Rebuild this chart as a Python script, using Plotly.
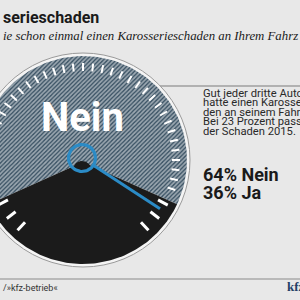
import numpy as np
import plotly.graph_objects as go

# ---- data ----
categories = ["Nein", "Ja"]
shares = [64, 36]
title_text = "serieschaden"
subtitle_text = "ie schon einmal einen Karosserieschaden an Ihrem Fahrz"
body_lines = ["Gut jeder dritte Auto", "hatte einen Karosse", "den an seinem Fahrz",
              "Bei 23 Prozent pass", "der Schaden 2015."]
source_text = "/»kfz-betrieb«"
logo_text = "kfz"

# ---- layout constants (pixels) ----
CX, CY = 83.0, 160.0
R_OUT, R = 107.0, 104.0
BG = "#e8e8e8"
BLUE = "#2b8bc6"
SLATE = "#3a5264"


def pt(r, deg):
    a = np.deg2rad(deg)
    return CX + r * np.cos(a), CY - r * np.sin(a)


def sector(a0, a1, n=120):
    angs = np.linspace(a0, a1, n)
    xs = [CX] + list(CX + R * np.cos(np.deg2rad(angs))) + [CX]
    ys = [CY + 2] + list(CY - R * np.sin(np.deg2rad(angs))) + [CY + 2]
    return xs, ys


ja_span = 360.0 * shares[1] / sum(shares)
ja_start, ja_end = -90 - ja_span / 2, -90 + ja_span / 2
nein_start, nein_end = ja_end, ja_start + 360

fig = go.Figure()

# Nein (hatched)
xs, ys = sector(nein_start, nein_end)
fig.add_trace(go.Scatter(x=xs, y=ys, mode="lines", fill="toself",
                         fillcolor=SLATE, line=dict(width=0),
                         fillpattern=dict(shape="/", fgcolor="#ffffff", bgcolor=SLATE,
                                          size=3, solidity=0.55),
                         hoverinfo="skip", name=categories[0]))
# Ja (black)
xs, ys = sector(ja_start, ja_end)
fig.add_trace(go.Scatter(x=xs, y=ys, mode="lines", fill="toself",
                         fillcolor="#1b1b1b", line=dict(width=0),
                         hoverinfo="skip", name=categories[1]))
# rounded apex of the black sector
HX, HY = 82.0, 158.0
ang = np.linspace(0, 2 * np.pi, 60)
fig.add_trace(go.Scatter(x=HX + 8 * np.cos(ang), y=HY + 9 + 6 * np.sin(ang), mode="lines",
                         fill="toself", fillcolor="#1b1b1b", line=dict(width=0),
                         hoverinfo="skip"))

# ticks on hatched part
tx, ty = [], []
for k in range(-18, 19):
    d = 90 + 6 * k
    x0, y0 = pt(89, d)
    x1, y1 = pt(97, d)
    tx += [x0, x1, None]
    ty += [y0, y1, None]
fig.add_trace(go.Scatter(x=tx, y=ty, mode="lines", line=dict(color="white", width=2),
                         hoverinfo="skip"))
# ticks on black part
tx, ty = [], []
for d in [-28, -37.5, -47, -152, -142.5, -133]:
    x0, y0 = pt(85, d)
    x1, y1 = pt(96, d)
    tx += [x0, x1, None]
    ty += [y0, y1, None]
fig.add_trace(go.Scatter(x=tx, y=ty, mode="lines", line=dict(color="white", width=3),
                         hoverinfo="skip"))

# hub ring and needle
fig.add_trace(go.Scatter(x=HX + 13.5 * np.cos(ang), y=HY + 13.5 * np.sin(ang), mode="lines",
                         line=dict(color=BLUE, width=3.2), hoverinfo="skip"))
na = np.deg2rad(-33)
fig.add_trace(go.Scatter(x=[HX + 13 * np.cos(na), HX + 93 * np.cos(na)],
                         y=[HY - 13 * np.sin(na), HY - 93 * np.sin(na)], mode="lines",
                         line=dict(color=BLUE, width=3), hoverinfo="skip"))

shapes = [
    dict(type="line", x0=130, x1=300, y0=86, y1=86, line=dict(color="#7a7a7a", width=1), layer="below"),
    dict(type="circle", x0=CX - R_OUT, x1=CX + R_OUT, y0=CY - R_OUT, y1=CY + R_OUT,
         fillcolor="#f4f4f4", line=dict(color="#9a9a9a", width=1), layer="below"),
    dict(type="line", x0=0, x1=300, y0=279, y1=279, line=dict(color="#8a8a8a", width=1.2), layer="below"),
]

ann = [
    dict(x=82, y=117, text=f"<b>{categories[0]}</b>", font=dict(family="Roboto", size=40, color="white")),
    dict(x=0.5, y=17, xanchor="left", text=f"<b>{title_text}</b>",
         font=dict(family="Roboto", size=16, color="#1a1a1a")),
    dict(x=0.5, y=36, xanchor="left", text=f"<i>{subtitle_text}</i>",
         font=dict(family="Liberation Serif", size=12.8, color="#1a1a1a")),
    dict(x=201, y=174, xanchor="left", text=f"<b>{shares[0]}% {categories[0]}</b>",
         font=dict(family="Roboto", size=18, color="#1a1a1a")),
    dict(x=201, y=192, xanchor="left", text=f"<b>{shares[1]}% {categories[1]}</b>",
         font=dict(family="Roboto", size=18, color="#1a1a1a")),
    dict(x=0.5, y=288, xanchor="left", text=source_text,
         font=dict(family="Roboto", size=9, color="#333333")),
    dict(x=285, y=286, xanchor="left", text=f"<b>{logo_text}</b>",
         font=dict(family="Liberation Serif", size=13, color="#233e66")),
]
for i, line in enumerate(body_lines):
    ann.append(dict(x=201, y=93 + 9.6 * i, xanchor="left", text=line,
                    font=dict(family="Liberation Sans Narrow, Roboto", size=11.2, color="#2a2a2a")))
for a in ann:
    a.update(xref="x", yref="y", showarrow=False)
    a.setdefault("yanchor", "middle")

fig.update_layout(
    width=300, height=300, margin=dict(l=0, r=0, t=0, b=0),
    paper_bgcolor=BG, plot_bgcolor=BG, showlegend=False,
    xaxis=dict(range=[0, 300], visible=False, fixedrange=True),
    yaxis=dict(range=[300, 0], visible=False, fixedrange=True, scaleanchor="x", scaleratio=1),
    shapes=shapes, annotations=ann,
)
fig.write_html("out.html")
